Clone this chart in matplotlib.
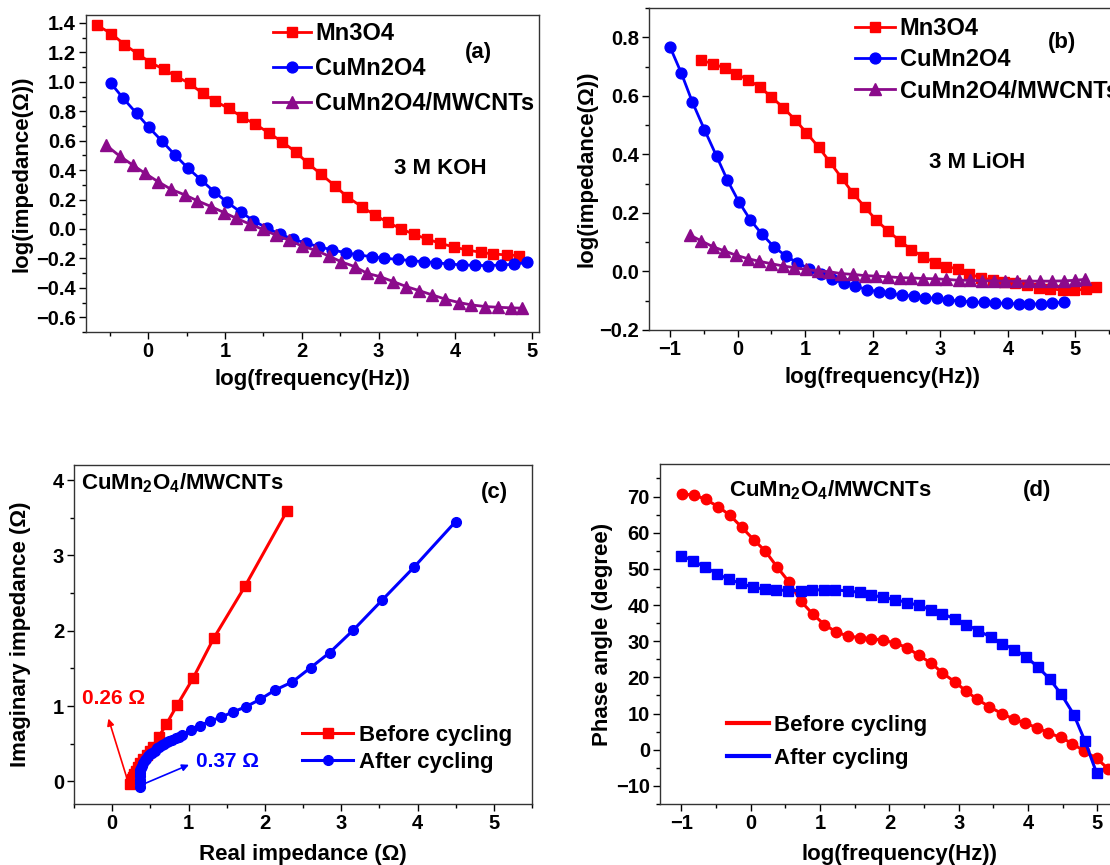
import matplotlib
matplotlib.use('Agg')
import matplotlib.pyplot as plt
from matplotlib.ticker import MultipleLocator
from matplotlib.lines import Line2D

plt.rcParams['font.family'] = ['Liberation Sans', 'DejaVu Sans']
plt.rcParams['font.weight'] = 'bold'
plt.rcParams['axes.labelweight'] = 'bold'
plt.rcParams['mathtext.fontset'] = 'custom'
plt.rcParams['mathtext.rm'] = 'Liberation Sans:bold'
plt.rcParams['mathtext.it'] = 'Liberation Sans:bold'
plt.rcParams['mathtext.bf'] = 'Liberation Sans:bold'
plt.rcParams['mathtext.default'] = 'regular'

RED = '#ff0000'
BLUE = '#0000ff'
PURPLE = '#8b0a8b'

# ---- (a) 3 M KOH ----
a_mn_x = [-0.67, -0.48, -0.31, -0.13, 0.03, 0.20, 0.36, 0.54, 0.71, 0.87, 1.05,
          1.22, 1.39, 1.57, 1.74, 1.92, 2.08, 2.25, 2.43, 2.59, 2.78, 2.95, 3.12,
          3.29, 3.46, 3.63, 3.80, 3.98, 4.15, 4.33, 4.49, 4.67, 4.83]
a_mn_y = [1.385, 1.328, 1.253, 1.188, 1.131, 1.086, 1.038, 0.989, 0.921, 0.869,
          0.819, 0.762, 0.713, 0.654, 0.593, 0.525, 0.446, 0.373, 0.294, 0.219,
          0.152, 0.095, 0.045, 0.002, -0.036, -0.068, -0.097, -0.122, -0.143,
          -0.158, -0.170, -0.176, -0.181]
a_cu_x = [-0.49, -0.33, -0.15, 0.01, 0.18, 0.35, 0.52, 0.69, 0.86, 1.03, 1.21,
          1.37, 1.55, 1.72, 1.89, 2.06, 2.22, 2.40, 2.57, 2.73, 2.91, 3.07, 3.25,
          3.42, 3.59, 3.75, 3.92, 4.09, 4.26, 4.43, 4.60, 4.77, 4.94]
a_cu_y = [0.993, 0.891, 0.785, 0.690, 0.597, 0.502, 0.412, 0.333, 0.253, 0.181,
          0.113, 0.057, 0.005, -0.036, -0.070, -0.097, -0.120, -0.143, -0.161,
          -0.176, -0.188, -0.199, -0.206, -0.215, -0.222, -0.229, -0.238, -0.244,
          -0.247, -0.249, -0.244, -0.240, -0.226]
a_cnt_x = [-0.55, -0.37, -0.20, -0.04, 0.13, 0.30, 0.48, 0.64, 0.82, 0.99, 1.15,
           1.32, 1.49, 1.66, 1.83, 2.00, 2.17, 2.35, 2.51, 2.69, 2.85, 3.02, 3.19,
           3.36, 3.53, 3.70, 3.87, 4.05, 4.21, 4.39, 4.56, 4.73, 4.87]
a_cnt_y = [0.570, 0.495, 0.434, 0.378, 0.321, 0.269, 0.231, 0.192, 0.152, 0.111,
           0.072, 0.034, -0.002, -0.041, -0.075, -0.115, -0.143, -0.183, -0.222,
           -0.256, -0.301, -0.324, -0.357, -0.391, -0.419, -0.448, -0.477, -0.500,
           -0.516, -0.527, -0.532, -0.536, -0.538]

# ---- (b) 3 M LiOH ----
b_mn_x = [-0.54, -0.36, -0.19, -0.02, 0.16, 0.33, 0.50, 0.68, 0.85, 1.02, 1.20,
          1.37, 1.54, 1.71, 1.88, 2.05, 2.23, 2.40, 2.57, 2.75, 2.92, 3.09, 3.26,
          3.43, 3.60, 3.78, 3.95, 4.11, 4.29, 4.46, 4.63, 4.81, 4.98, 5.15, 5.31]
b_mn_y = [0.722, 0.710, 0.695, 0.675, 0.655, 0.630, 0.597, 0.559, 0.519, 0.474,
          0.425, 0.373, 0.320, 0.267, 0.221, 0.176, 0.138, 0.105, 0.075, 0.050,
          0.030, 0.016, 0.010, -0.009, -0.021, -0.030, -0.035, -0.041, -0.047,
          -0.055, -0.059, -0.064, -0.064, -0.061, -0.052]
b_cu_x = [-1.00, -0.83, -0.67, -0.49, -0.31, -0.15, 0.02, 0.19, 0.36, 0.54, 0.71,
          0.88, 1.06, 1.23, 1.40, 1.57, 1.74, 1.92, 2.09, 2.26, 2.44, 2.61, 2.78,
          2.95, 3.12, 3.29, 3.47, 3.64, 3.81, 3.98, 4.16, 4.32, 4.49, 4.66, 4.83]
b_cu_y = [0.768, 0.677, 0.580, 0.485, 0.394, 0.312, 0.238, 0.176, 0.128, 0.084,
          0.054, 0.030, 0.010, -0.010, -0.027, -0.039, -0.050, -0.062, -0.070,
          -0.075, -0.081, -0.084, -0.089, -0.092, -0.098, -0.101, -0.104, -0.106,
          -0.107, -0.109, -0.111, -0.111, -0.111, -0.109, -0.104]
b_cnt_x = [-0.70, -0.54, -0.36, -0.20, -0.03, 0.15, 0.32, 0.49, 0.67, 0.84, 1.01,
           1.19, 1.36, 1.53, 1.71, 1.88, 2.05, 2.23, 2.40, 2.57, 2.75, 2.92, 3.09,
           3.27, 3.44, 3.61, 3.79, 3.96, 4.13, 4.31, 4.48, 4.65, 4.83, 5.00, 5.14]
b_cnt_y = [0.124, 0.105, 0.084, 0.071, 0.056, 0.044, 0.035, 0.027, 0.019, 0.013,
           0.007, 0.002, -0.001, -0.007, -0.010, -0.014, -0.016, -0.018, -0.021,
           -0.022, -0.024, -0.025, -0.027, -0.030, -0.030, -0.032, -0.032, -0.033,
           -0.033, -0.033, -0.033, -0.033, -0.032, -0.030, -0.027]

# ---- (c) Nyquist ----
c_before_x = [0.24, 0.25, 0.26, 0.27, 0.29, 0.31, 0.34, 0.37, 0.41, 0.45, 0.49,
              0.53, 0.61, 0.71, 0.85, 1.06, 1.33, 1.74, 2.29]
c_before_y = [-0.03, 0.00, 0.03, 0.06, 0.10, 0.14, 0.19, 0.24, 0.30, 0.35, 0.40,
              0.46, 0.59, 0.76, 1.01, 1.37, 1.90, 2.59, 3.59]
c_after_x = [0.37, 0.36, 0.36, 0.36, 0.37, 0.37, 0.38, 0.39, 0.41, 0.43, 0.44,
             0.47, 0.50, 0.52, 0.56, 0.59, 0.62, 0.65, 0.68, 0.72, 0.75, 0.79,
             0.83, 0.87, 0.92, 1.03, 1.15, 1.28, 1.42, 1.58, 1.75, 1.94, 2.13,
             2.36, 2.60, 2.85, 3.16, 3.54, 3.96, 4.50]
c_after_y = [-0.07, -0.02, 0.02, 0.07, 0.11, 0.15, 0.18, 0.21, 0.25, 0.28, 0.30,
             0.34, 0.36, 0.38, 0.41, 0.44, 0.46, 0.48, 0.50, 0.52, 0.53, 0.55,
             0.57, 0.59, 0.62, 0.68, 0.74, 0.80, 0.85, 0.92, 0.99, 1.09, 1.21,
             1.32, 1.51, 1.71, 2.01, 2.41, 2.85, 3.45]

# ---- (d) Bode phase ----
d_before_x = [-0.99, -0.82, -0.65, -0.47, -0.30, -0.13, 0.04, 0.21, 0.38, 0.55,
              0.72, 0.89, 1.06, 1.23, 1.40, 1.58, 1.74, 1.91, 2.08, 2.26, 2.42,
              2.60, 2.76, 2.94, 3.10, 3.27, 3.44, 3.62, 3.79, 3.96, 4.13, 4.29,
              4.47, 4.64, 4.81, 4.99, 5.15]
d_before_y = [70.6, 70.5, 69.2, 67.2, 64.8, 61.5, 58.1, 54.9, 50.5, 46.4, 41.1,
              37.6, 34.6, 32.6, 31.4, 31.0, 30.7, 30.3, 29.5, 28.2, 26.1, 24.0,
              21.3, 18.8, 16.3, 13.9, 11.9, 10.0, 8.5, 7.3, 6.1, 4.7, 3.4, 1.7,
              -0.4, -2.4, -5.2]
d_after_x = [-1.00, -0.83, -0.66, -0.49, -0.32, -0.14, 0.03, 0.20, 0.37, 0.54,
             0.72, 0.88, 1.06, 1.22, 1.40, 1.57, 1.74, 1.91, 2.08, 2.26, 2.42,
             2.60, 2.76, 2.94, 3.11, 3.28, 3.46, 3.63, 3.80, 3.97, 4.14, 4.31,
             4.48, 4.66, 4.82, 4.99]
d_after_y = [53.7, 52.2, 50.5, 48.7, 47.1, 46.0, 44.9, 44.4, 44.2, 44.0, 44.0,
             44.2, 44.2, 44.2, 43.9, 43.5, 42.8, 42.1, 41.5, 40.7, 39.9, 38.7,
             37.6, 36.2, 34.6, 32.9, 31.2, 29.3, 27.7, 25.7, 22.9, 19.6, 15.3,
             9.7, 2.4, -6.5]

legend_names = ['Mn3O4', 'CuMn2O4', 'CuMn2O4/MWCNTs']
sample_label = r'CuMn$_2$O$_4$/MWCNTs'

W, H = 1110, 865
fig = plt.figure(figsize=(W / 100, H / 100), dpi=100)


def box(left, top, right, bottom):
    return [left / W, 1 - bottom / H, (right - left) / W, (bottom - top) / H]


def style(ax, xmaj, xmin, ymaj, ymin):
    ax.xaxis.set_major_locator(MultipleLocator(xmaj))
    ax.xaxis.set_minor_locator(MultipleLocator(xmin))
    ax.yaxis.set_major_locator(MultipleLocator(ymaj))
    ax.yaxis.set_minor_locator(MultipleLocator(ymin))
    ax.tick_params(which='both', direction='out', width=1, labelsize=14.5,
                   top=False, right=False)
    ax.tick_params(which='major', length=4.7, pad=2.5)
    ax.tick_params(which='minor', length=3)
    for sp in ax.spines.values():
        sp.set_linewidth(1.0)
        sp.set_color('#333333')


lw = 2.0
ms = 7.5

# (a)
ax1 = fig.add_axes(box(86, 15, 539, 332))
ax1.plot(a_mn_x, a_mn_y, '-s', color=RED, lw=lw, ms=ms, label=legend_names[0])
ax1.plot(a_cu_x, a_cu_y, '-o', color=BLUE, lw=lw, ms=ms + 0.3, label=legend_names[1])
ax1.plot(a_cnt_x, a_cnt_y, '-^', color=PURPLE, lw=lw, ms=ms + 0.5, label=legend_names[2])
ax1.set_xlim(-0.81, 5.09)
ax1.set_ylim(-0.70, 1.454)
style(ax1, 1, 0.5, 0.2, 0.1)
ax1.set_xlabel('log(frequency(Hz))', fontsize=16, labelpad=6)
ax1.set_ylabel('log(impedance(\u03a9))', fontsize=16, labelpad=3)
ax1.legend(loc='upper left', bbox_to_anchor=(273 / W, 1 - 22 / H),
           bbox_transform=fig.transFigure, frameon=False, fontsize=17,
           handlelength=1.6, handletextpad=0.2, labelspacing=0.51,
           borderpad=0, borderaxespad=0)
ax1.text(4.30, 1.20, '(a)', fontsize=16, ha='center', va='center')
ax1.text(3.81, 0.413, '3 M KOH', fontsize=16, ha='center', va='center')

# (b)
ax2 = fig.add_axes(box(649, 8, 1116, 330))
ax2.plot(b_mn_x, b_mn_y, '-s', color=RED, lw=lw, ms=ms, label=legend_names[0])
ax2.plot(b_cu_x, b_cu_y, '-o', color=BLUE, lw=lw, ms=ms + 0.3, label=legend_names[1])
ax2.plot(b_cnt_x, b_cnt_y, '-^', color=PURPLE, lw=lw, ms=ms + 0.5, label=legend_names[2])
ax2.set_xlim(-1.31, 5.6)
ax2.set_ylim(-0.2, 0.9005)
style(ax2, 1, 0.5, 0.2, 0.1)
ax2.set_xlabel('log(frequency(Hz))', fontsize=16, labelpad=6)
ax2.set_ylabel('log(impedance(\u03a9))', fontsize=16, labelpad=1)
ax2.legend(loc='upper left', bbox_to_anchor=(855 / W, 1 - 17 / H),
           bbox_transform=fig.transFigure, frameon=False, fontsize=17,
           handlelength=1.7, handletextpad=0.2, labelspacing=0.35,
           borderpad=0, borderaxespad=0)
ax2.text(4.80, 0.782, '(b)', fontsize=16, ha='center', va='center')
ax2.text(3.54, 0.372, '3 M LiOH', fontsize=16, ha='center', va='center')

# (c)
ax3 = fig.add_axes(box(74, 465, 532, 804))
ax3.plot(c_before_x, c_before_y, '-s', color=RED, lw=2.2, ms=7, label='Before cycling')
ax3.plot(c_after_x, c_after_y, '-o', color=BLUE, lw=2.2, ms=7, label='After cycling')
ax3.set_xlim(-0.5, 5.5)
ax3.set_ylim(-0.3, 4.2)
style(ax3, 1, 0.5, 1, 0.5)
ax3.set_xlabel('Real impedance (\u03a9)', fontsize=16, labelpad=8)
ax3.set_ylabel('Imaginary impedance (\u03a9)', fontsize=16, labelpad=16)
ax3.legend(loc='upper left', bbox_to_anchor=(302 / W, 1 - 725 / H),
           bbox_transform=fig.transFigure, frameon=False, fontsize=16,
           handlelength=2.3, handletextpad=0.25, labelspacing=0.26,
           borderpad=0, borderaxespad=0)
ax3.text(-0.41, 3.96, sample_label, fontsize=16, ha='left', va='center')
ax3.text(5.01, 3.84, '(c)', fontsize=16, ha='center', va='center')
ax3.annotate('', xy=(-0.06, 0.87), xytext=(0.20, 0.02),
             arrowprops=dict(arrowstyle='-|>', color=RED, lw=1.2, mutation_scale=10))
ax3.annotate('', xy=(1.04, 0.235), xytext=(0.40, -0.04),
             arrowprops=dict(arrowstyle='-|>', color=BLUE, lw=1.2, mutation_scale=10))
ax3.text(-0.39, 1.10, '0.26 \u03a9', color=RED, fontsize=15, ha='left', va='center')
ax3.text(1.10, 0.27, '0.37 \u03a9', color=BLUE, fontsize=15, ha='left', va='center')

# (d)
ax4 = fig.add_axes(box(660, 464, 1139, 804))
ax4.plot(d_before_x, d_before_y, '-o', color=RED, lw=2.2, ms=7.5)
ax4.plot(d_after_x, d_after_y, '-s', color=BLUE, lw=2.2, ms=7)
ax4.set_xlim(-1.31, 5.6)
ax4.set_ylim(-15, 79)
style(ax4, 1, 0.5, 10, 5)
ax4.set_xlabel('log(frequency(Hz))', fontsize=16, labelpad=8)
ax4.set_ylabel('Phase angle (degree)', fontsize=16, labelpad=2)
handles = [Line2D([], [], color=RED, lw=3), Line2D([], [], color=BLUE, lw=3)]
ax4.legend(handles, ['Before cycling', 'After cycling'], loc='upper left',
           bbox_to_anchor=(727 / W, 1 - 715 / H), bbox_transform=fig.transFigure,
           frameon=False, fontsize=16, handlelength=1.9, handletextpad=0.22,
           labelspacing=0.54, borderpad=0, borderaxespad=0)
ax4.text(-0.32, 71.7, sample_label, fontsize=16, ha='left', va='center')
ax4.text(4.13, 71.7, '(d)', fontsize=16, ha='center', va='center')

fig.savefig('out.png', dpi=100, facecolor='white')
